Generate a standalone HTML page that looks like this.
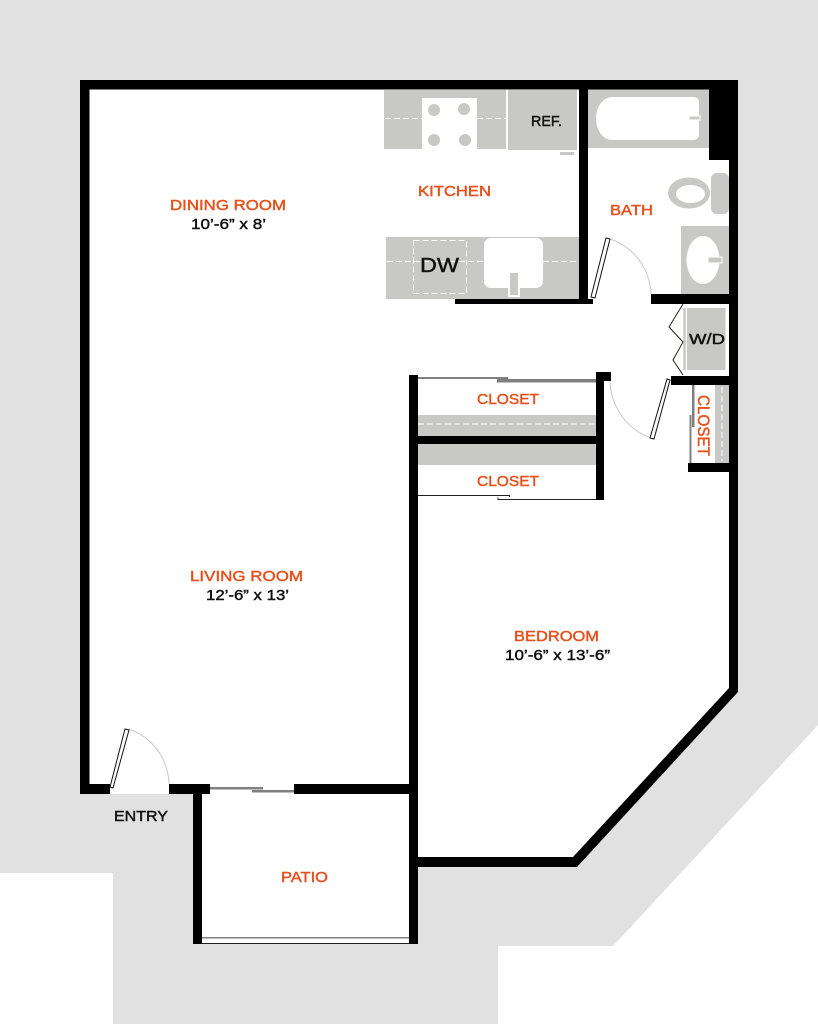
<!DOCTYPE html>
<html><head><meta charset="utf-8"><style>
html,body{margin:0;padding:0;background:#fff}
svg{display:block}
text{font-family:"Liberation Sans",sans-serif;font-size:15px;text-anchor:start}
.o{fill:#e8501a;stroke:#e8501a;stroke-width:.45}
.k{fill:#111;stroke:#111;stroke-width:.45}
</style></head><body>
<svg width="818" height="1024" viewBox="0 0 818 1024" xmlns="http://www.w3.org/2000/svg">
<polygon fill="#e1e1e1" points="0,0 818,0 818,725 613,946 498,946 498,1024 113,1024 113,873 0,873"/>
<polygon fill="#fff" points="80,80 738,80 738,692 577,867 418,867 418,944 193,944 193,794 80,794"/>
<g fill="#c8c8c7">
<rect x="384" y="90" width="122" height="59"/>
<rect x="508" y="90" width="69" height="60"/>
<rect x="386" y="237" width="193" height="62"/>
<rect x="588" y="89" width="121" height="59"/>
<rect x="681" y="226" width="48" height="68"/>
<rect x="687" y="308" width="38.500" height="62"/>
<rect x="418" y="415" width="178" height="21"/>
<rect x="418" y="444" width="178" height="21"/>
<rect x="715" y="385" width="14" height="78"/>
<rect x="560" y="152" width="14" height="3"/>
</g>
<g stroke="#fff" stroke-width="1" stroke-dasharray="6 3" fill="none">
<path d="M385 118.500H422M477 118.500H506"/>
<path d="M387 261.500H484M543 261.500H578"/>
<path d="M418 424H596"/>
<path d="M722 387V461"/>
<rect x="413.500" y="240.500" width="53" height="53"/>
</g>
<rect x="422" y="98" width="55" height="54" fill="#fff"/>
<g fill="#c8c8c7"><circle cx="434" cy="110" r="6"/><circle cx="464" cy="109" r="6"/><circle cx="434" cy="140" r="6"/><circle cx="465" cy="140" r="6"/></g>
<path d="M612 97H693Q699 97 699 103V134Q699 140 693 140H612A16 21.500 0 0 1 612 97Z" fill="#fff"/>
<rect x="689" y="116" width="11" height="4" fill="#c8c8c7" stroke="#fff"/>
<ellipse cx="689" cy="193" rx="21" ry="15.500" fill="#c8c8c7"/>
<ellipse cx="690.500" cy="194" rx="14.500" ry="9" fill="#fff"/>
<rect x="711" y="173" width="18" height="41" rx="6" fill="#c8c8c7"/>
<rect x="484" y="238" width="59" height="50" rx="7" fill="#fff"/>
<rect x="509" y="272" width="10" height="24" fill="#c8c8c7" stroke="#fff" stroke-width="2"/>
<ellipse cx="703" cy="260" rx="16.500" ry="24" fill="#fff"/>
<rect x="708" y="257" width="14" height="6" fill="#c8c8c7" stroke="#fff"/>
<path d="M684.500 308V370" stroke="#c8c8c7" stroke-width="2.500"/>
<path d="M610 239A60 60 0 0 1 651 294M610 381A62 62 0 0 0 651 438M129 729A60 60 0 0 1 169 784" fill="none" stroke="#c9c9c9" stroke-width="1"/>
<g fill="#000">
<rect x="80" y="80" width="658" height="9.500"/>
<rect x="80" y="80" width="9.500" height="714"/>
<rect x="80" y="784" width="30" height="10"/>
<rect x="169" y="784" width="41" height="10"/>
<rect x="294" y="784" width="124" height="10"/>
<rect x="193" y="784" width="9" height="160"/>
<rect x="409" y="375" width="9" height="569"/>
<rect x="579" y="80" width="9" height="224"/>
<rect x="455" y="299" width="138" height="5"/>
<rect x="709" y="80" width="29" height="80"/>
<rect x="729" y="80" width="9" height="612"/>
<rect x="651" y="294" width="87" height="10"/>
<rect x="596" y="372" width="8" height="128"/>
<rect x="596" y="372" width="15" height="9"/>
<rect x="418" y="436" width="178" height="8"/>
<rect x="671" y="376" width="58" height="9"/>
<rect x="688" y="463" width="41" height="9"/>
<polygon points="729,688 738,692 577,867 409,867 409,857 573,857"/>
</g>
<g fill="#fff" stroke="#111" stroke-width="1">
<polygon points="606,238 610,239 595,298 591,297"/>
<polygon points="667,379 670,380 654,439 650,438"/>
<polygon points="125,729 129,730 113,788 110,787"/>
</g>
<g fill="#808080">
<rect x="418" y="377" width="90" height="2"/><rect x="497" y="379" width="99" height="3.500"/>
<rect x="692" y="385" width="2.500" height="42"/><rect x="689.500" y="415" width="2" height="48"/>
<rect x="210" y="787" width="53" height="2.500"/><rect x="252" y="790" width="42" height="2.500"/>
<rect x="202" y="937" width="207" height="1.500"/>
</g>
<g fill="none" stroke="#222" stroke-width="1">
<path d="M418 495.500H509.500V497M498 497.500V499.500H596"/>
<path d="M202 943.500H409"/>
<path d="M683 304L669 327L683 342L673 360L683 375"/>
</g>
<text class="o" x="170" y="210" textLength="116" lengthAdjust="spacingAndGlyphs">DINING ROOM</text>
<text class="k" x="191" y="229" textLength="75" lengthAdjust="spacingAndGlyphs">10’-6” x 8’</text>
<text class="o" x="418" y="196" textLength="73" lengthAdjust="spacingAndGlyphs">KITCHEN</text>
<text class="k" x="531" y="126" textLength="31" lengthAdjust="spacingAndGlyphs" style="font-size:14.500px">REF.</text>
<text class="k" x="420" y="272" textLength="39" lengthAdjust="spacingAndGlyphs" style="font-size:20.500px">DW</text>
<text class="o" x="610" y="215" textLength="43" lengthAdjust="spacingAndGlyphs">BATH</text>
<text class="k" x="689" y="344" textLength="36" lengthAdjust="spacingAndGlyphs">W/D</text>
<text class="o" x="477" y="404" textLength="62" lengthAdjust="spacingAndGlyphs">CLOSET</text>
<text class="o" x="477" y="486" textLength="62" lengthAdjust="spacingAndGlyphs">CLOSET</text>
<text class="o" transform="translate(698,395) rotate(90)" x="0" y="0" textLength="61" lengthAdjust="spacingAndGlyphs" style="font-size:16.500px">CLOSET</text>
<text class="o" x="190" y="581" textLength="113" lengthAdjust="spacingAndGlyphs">LIVING ROOM</text>
<text class="k" x="206" y="600" textLength="83" lengthAdjust="spacingAndGlyphs">12’-6” x 13’</text>
<text class="o" x="514" y="641" textLength="85" lengthAdjust="spacingAndGlyphs">BEDROOM</text>
<text class="k" x="505" y="660" textLength="105" lengthAdjust="spacingAndGlyphs">10’-6” x 13’-6”</text>
<text class="k" x="114" y="821" textLength="54" lengthAdjust="spacingAndGlyphs">ENTRY</text>
<text class="o" x="281" y="882" textLength="47" lengthAdjust="spacingAndGlyphs">PATIO</text>
</svg>
</body></html>
